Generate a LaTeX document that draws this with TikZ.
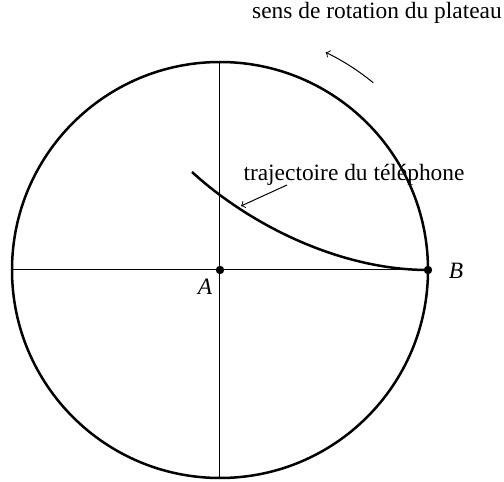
\documentclass[tikz,border=0pt]{standalone}
\usepackage{fontspec}
\setmainfont{Liberation Serif}
\begin{document}
\begin{tikzpicture}
          [x=0.5pt,y=0.5pt,font=\fontsize{11.7}{14}\selectfont,
           thickline/.style={line width=1.25pt},
           thinline/.style={line width=0.5pt},
           point/.style={circle, fill, inner sep=0pt, minimum size=4.2pt}]
        \useasboundingbox (-220,-212) rectangle (284,270);

        \coordinate (top) at (0,208);
        \coordinate (bottom) at (0,-208);
        \coordinate (left) at (-208,0);
        \coordinate (right) at (208,0);
        \coordinate (start) at (-28,98);

        \draw[thickline] (0,0) circle (208);
        \foreach \from/\to in {left/right, top/bottom}
          \draw[thinline] (\from) -- (\to);

        \node[point] (A) at (0,0) {};
        \node[point] (B) at (208,0) {};
        \node[anchor=base] (labelA) at (-15,-25) {\textit{A}};
        \node[anchor=base] (labelB) at (236,-9) {\textit{B}};

        \draw[thickline] (start) .. controls (30,45) and (120,0) .. (B.center);

        \node[anchor=base] (traj) at (134,89) {trajectoire du téléphone};
        \coordinate (trajtail) at (67,85);
        \coordinate (trajtip) at (21,64);
        \draw[thinline,->,>={to[scale=1.3]}] (trajtail) -- (trajtip);

        \node[anchor=base] (rotation) at (157,251) {sens de rotation du plateau};
        \coordinate (rotstart) at (50.7:242);
        \draw[thinline,->,>={to[scale=1.3]}] (rotstart) arc[start angle=50.7, end angle=64.1, radius=242];
      \end{tikzpicture}
\end{document}
